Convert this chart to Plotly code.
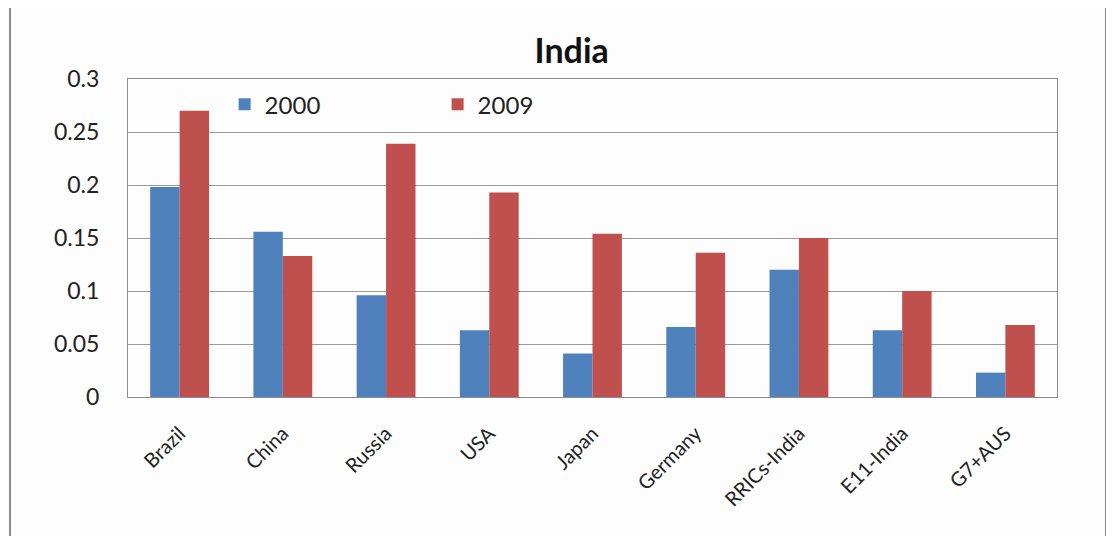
import plotly.graph_objects as go

categories = ["Brazil", "China", "Russia", "USA", "Japan", "Germany", "RRICs-India", "E11-India", "G7+AUS"]
values_2000 = [0.198, 0.156, 0.096, 0.063, 0.041, 0.066, 0.120, 0.063, 0.023]
values_2009 = [0.270, 0.133, 0.239, 0.193, 0.154, 0.136, 0.150, 0.100, 0.068]
y_ticks = [0, 0.05, 0.1, 0.15, 0.2, 0.25, 0.3]
y_tick_labels = ["0", "0.05", "0.1", "0.15", "0.2", "0.25", "0.3"]

FONT = "Lato, 'Open Sans', sans-serif"

fig = go.Figure()
fig.add_trace(go.Bar(name="2000", x=categories, y=values_2000, marker=dict(color="#4F81BD", line=dict(width=0))))
fig.add_trace(go.Bar(name="2009", x=categories, y=values_2009, marker=dict(color="#C0504D", line=dict(width=0))))

fig.update_layout(
    width=1114, height=536,
    margin=dict(l=120, r=65, t=71, b=147),
    paper_bgcolor="#FDFDFD", plot_bgcolor="#FDFDFD",
    barmode="group", bargap=0.43, bargroupgap=0,
    font=dict(family=FONT, color="#222222"),
    title=dict(text="<b>India</b>", x=0.506, xanchor="center", y=0.92, yanchor="middle",
               font=dict(size=34, family=FONT, color="#111111")),
    legend=dict(orientation="h", x=0.104, y=0.99, xanchor="left", yanchor="top",
                font=dict(size=24, family=FONT), entrywidth=168, entrywidthmode="pixels",
                bgcolor="rgba(0,0,0,0)"),
    showlegend=True,
)
fig.update_xaxes(
    tickangle=-45, tickfont=dict(size=20, family=FONT, color="#222222"),
    showline=True, linecolor="#8C8C8C", linewidth=1, mirror=True,
    showgrid=False, ticks="", automargin=False, ticklabelstandoff=16,
)
fig.update_yaxes(
    range=[0, 0.3], tickvals=y_ticks, ticktext=y_tick_labels,
    tickfont=dict(size=23, family=FONT, color="#222222"),
    showgrid=True, gridcolor="#9A9A9A", gridwidth=1,
    showline=True, linecolor="#8C8C8C", linewidth=1, mirror=True,
    zeroline=False, ticks="", ticklabelstandoff=23, automargin=False,
)
fig.add_shape(type="rect", xref="paper", yref="paper",
              x0=-0.127, x1=1.0527, y0=-0.5, y1=1.228,
              line=dict(color="#8C8C8C", width=2), fillcolor="rgba(0,0,0,0)", layer="below")

fig.write_html("out.html")
